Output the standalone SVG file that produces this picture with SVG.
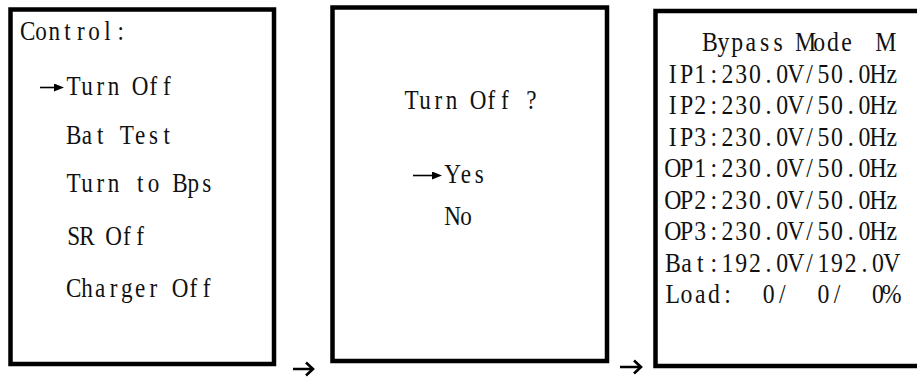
<svg xmlns="http://www.w3.org/2000/svg" width="917" height="378" viewBox="0 0 917 378">
<style>
.box{fill:#fff;stroke:#000;stroke-width:4.5}
.t{font-family:"Liberation Serif","Times New Roman",serif;font-size:33px;fill:#111;text-anchor:middle}
.cur{stroke:#000;stroke-width:1.6;fill:none}
.conn{stroke:#000;stroke-width:2.6;fill:none;stroke-linecap:butt;stroke-linejoin:miter}
</style>
<defs>
<marker id="head" viewBox="0 0 10 8" refX="2" refY="4" markerWidth="10" markerHeight="8" markerUnits="userSpaceOnUse" orient="auto">
<path d="M0 0 L10 4 L0 8 Z" fill="#000"/>
</marker>
</defs>
<rect width="917" height="378" fill="#fff"/>
<g id="screen-control">
<rect class="box" x="10.5" y="9.5" width="263.5" height="354.5"/>
<text class="t" transform="matrix(0.7 0 0 0.85 21 40)" x="9.5 28.5 47.5 66.5 85.5 104.5 123.5 142.5">Control:</text>
<path class="cur" d="M40 87.5 H56" marker-end="url(#head)"/>
<text class="t" transform="matrix(0.7 0 0 0.85 67 95)" x="9.5 28.5 47.5 66.5 85.5 104.5 123.5 142.5">Turn Off</text>
<text class="t" transform="matrix(0.7 0 0 0.85 67 144)" x="9.5 28.5 47.5 66.5 85.5 104.5 123.5 142.5">Bat Test</text>
<text class="t" transform="matrix(0.7 0 0 0.85 67 192)" x="9.5 28.5 47.5 66.5 85.5 104.5 123.5 142.5 161.5 180.5 199.5">Turn to Bps</text>
<text class="t" transform="matrix(0.7 0 0 0.85 67 245)" x="9.5 28.5 47.5 66.5 85.5 104.5">SR Off</text>
<text class="t" transform="matrix(0.7 0 0 0.85 67 297)" x="9.5 28.5 47.5 66.5 85.5 104.5 123.5 142.5 161.5 180.5 199.5">Charger Off</text>
</g>
<g id="screen-confirm">
<rect class="box" x="332.5" y="7.5" width="274.5" height="353.5"/>
<text class="t" transform="matrix(0.7 0 0 0.85 405 109)" x="9.5 28.5 47.5 66.5 85.5 104.5 123.5 142.5 161.5 180.5">Turn Off ?</text>
<path class="cur" d="M413 175.5 H434" marker-end="url(#head)"/>
<text class="t" transform="matrix(0.7 0 0 0.85 446 183)" x="9.5 28.5 47.5">Yes</text>
<text class="t" transform="matrix(0.7 0 0 0.85 446 225)" x="9.5 28.5">No</text>
</g>
<g id="screen-status">
<rect class="box" x="655.5" y="11" width="270" height="355"/>
<text class="t" transform="matrix(0.72 0 0 0.85 703 51)" x="9.5 28.5 47.5 66.5 85.5 104.5 123.5 142.5 161.5 180.5 199.5">Bypass Mode</text>
<text class="t" transform="matrix(0.72 0 0 0.85 879 51)" x="9.5">M</text>
<text class="t" transform="matrix(0.72 0 0 0.85 666 82.5)" x="9.5 28.5 47.5 66.5 85.5 104.5 123.5 142.5 161.5 180.5 199.5 218.5 237.5 256.5 275.5 294.5 313.5">IP1:230.0V/50.0Hz</text>
<text class="t" transform="matrix(0.72 0 0 0.85 666 114)" x="9.5 28.5 47.5 66.5 85.5 104.5 123.5 142.5 161.5 180.5 199.5 218.5 237.5 256.5 275.5 294.5 313.5">IP2:230.0V/50.0Hz</text>
<text class="t" transform="matrix(0.72 0 0 0.85 666 145.5)" x="9.5 28.5 47.5 66.5 85.5 104.5 123.5 142.5 161.5 180.5 199.5 218.5 237.5 256.5 275.5 294.5 313.5">IP3:230.0V/50.0Hz</text>
<text class="t" transform="matrix(0.72 0 0 0.85 666 177)" x="9.5 28.5 47.5 66.5 85.5 104.5 123.5 142.5 161.5 180.5 199.5 218.5 237.5 256.5 275.5 294.5 313.5">OP1:230.0V/50.0Hz</text>
<text class="t" transform="matrix(0.72 0 0 0.85 666 208.5)" x="9.5 28.5 47.5 66.5 85.5 104.5 123.5 142.5 161.5 180.5 199.5 218.5 237.5 256.5 275.5 294.5 313.5">OP2:230.0V/50.0Hz</text>
<text class="t" transform="matrix(0.72 0 0 0.85 666 240)" x="9.5 28.5 47.5 66.5 85.5 104.5 123.5 142.5 161.5 180.5 199.5 218.5 237.5 256.5 275.5 294.5 313.5">OP3:230.0V/50.0Hz</text>
<text class="t" transform="matrix(0.72 0 0 0.85 666 271.5)" x="9.5 28.5 47.5 66.5 85.5 104.5 123.5 142.5 161.5 180.5 199.5 218.5 237.5 256.5 275.5 294.5 313.5">Bat:192.0V/192.0V</text>
<text class="t" xml:space="preserve" transform="matrix(0.72 0 0 0.85 666 303)" x="9.5 28.5 47.5 66.5 85.5 104.5 123.5 142.5 161.5 180.5 199.5 218.5 237.5 256.5 275.5 294.5 313.5">Load:  0/  0/  0%</text>
</g>
<g id="connectors">
<path class="conn" d="M293 369 H313 M306 362.5 L313 369 L306 375.5"/>
<path class="conn" d="M620 367 H641 M634 360.5 L641 367 L634 373.5"/>
</g>
</svg>
